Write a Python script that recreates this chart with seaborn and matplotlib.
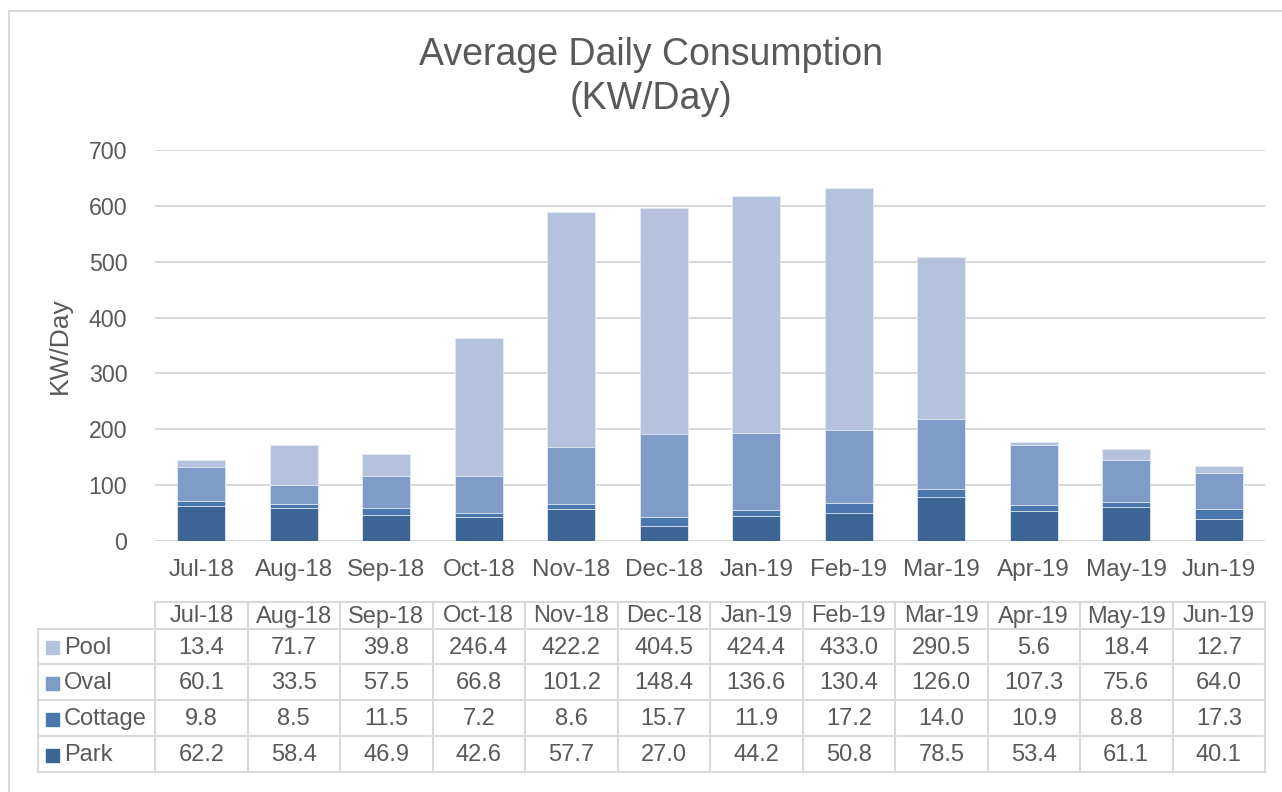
import numpy as np
import pandas as pd
import matplotlib
matplotlib.use("Agg")
import matplotlib.pyplot as plt
import seaborn as sns
from matplotlib.patches import Rectangle

months = ["Jul-18", "Aug-18", "Sep-18", "Oct-18", "Nov-18", "Dec-18",
          "Jan-19", "Feb-19", "Mar-19", "Apr-19", "May-19", "Jun-19"]
park = [62.2, 58.4, 46.9, 42.6, 57.7, 27.0, 44.2, 50.8, 78.5, 53.4, 61.1, 40.1]
cottage = [9.8, 8.5, 11.5, 7.2, 8.6, 15.7, 11.9, 17.2, 14.0, 10.9, 8.8, 17.3]
oval = [60.1, 33.5, 57.5, 66.8, 101.2, 148.4, 136.6, 130.4, 126.0, 107.3, 75.6, 64.0]
pool = [13.4, 71.7, 39.8, 246.4, 422.2, 404.5, 424.4, 433.0, 290.5, 5.6, 18.4, 12.7]

series = ["Park", "Cottage", "Oval", "Pool"]
colors = {"Park": "#3C6494", "Cottage": "#4A77AE", "Oval": "#7F9BC7", "Pool": "#B4C2DE"}

df = pd.DataFrame({"month": months, "Park": park, "Cottage": cottage,
                   "Oval": oval, "Pool": pool})
# cumulative tops for stacking
cum = df[series].cumsum(axis=1)

sns.set_theme(style="white")
plt.rcParams["font.family"] = ["Liberation Sans", "DejaVu Sans"]
txt = "#595959"
grid = "#D9D9D9"

W, H = 1282, 792
fig = plt.figure(figsize=(W / 100, H / 100), dpi=100)


def fx(px):
    return px / W


def fy(py):
    return 1 - py / H


# outer chart border
fig.patches.append(Rectangle((fx(8.5), fy(800)), fx(1300), fy(10.5) - fy(800),
                             transform=fig.transFigure, fill=False,
                             edgecolor=grid, linewidth=1.5))

ax = fig.add_axes([fx(155), fy(541), fx(1265) - fx(155), fy(150) - fy(541)])

# draw from the top of the stack down so each segment overlays the next
for name in reversed(series):
    sns.barplot(x=df["month"], y=cum[name], color=colors[name], width=0.52,
                saturation=1, edgecolor="#E4EAF3", linewidth=0.6, ax=ax,
                order=months)

ax.set_ylim(0, 700)
ax.set_xlim(-0.5, 11.5)
ax.set_yticks(range(0, 701, 100))
ax.yaxis.grid(True, color=grid, linewidth=1.5)
ax.set_axisbelow(True)
for s in ax.spines.values():
    s.set_visible(False)
ax.tick_params(axis="both", length=0, labelcolor=txt)
ax.tick_params(axis="x", pad=13, labelsize=17.5)
ax.tick_params(axis="y", pad=20, labelsize=16.7)
ax.set_xlabel("")
ax.set_ylabel("KW/Day", fontsize=19, color=txt, labelpad=12)

fig.text(fx(651), fy(55), "Average Daily Consumption", ha="center", va="center",
         fontsize=27, color=txt)
fig.text(fx(651), fy(99), "(KW/Day)", ha="center", va="center",
         fontsize=27, color=txt)

# data table with legend keys
tab = fig.add_axes([0, 0, 1, 1], facecolor="none")
tab.set_xlim(0, W)
tab.set_ylim(H, 0)
tab.axis("off")

left, x0, colw = 38, 155, 92.5
right = x0 + colw * 12
rows_y = [602, 629, 664, 700, 736, 772]
lc = dict(color=grid, linewidth=1.5)

# header row
tab.plot([x0, right], [rows_y[0], rows_y[0]], **lc)
for yy in rows_y[1:]:
    tab.plot([left, right], [yy, yy], **lc)
tab.plot([left, left], [rows_y[1], rows_y[-1]], **lc)
for i in range(13):
    xx = x0 + i * colw
    tab.plot([xx, xx], [rows_y[0], rows_y[-1]], **lc)

for i, m in enumerate(months):
    tab.text(x0 + (i + 0.5) * colw, (rows_y[0] + rows_y[1]) / 2 + 1, m,
             ha="center", va="center", fontsize=17, color=txt)

table_rows = ["Pool", "Oval", "Cottage", "Park"]
for r, name in enumerate(table_rows):
    yc = (rows_y[r + 1] + rows_y[r + 2]) / 2 + 1
    tab.add_patch(Rectangle((46, yc - 6.5), 13, 13, color=colors[name]))
    tab.text(64, yc, name, ha="left", va="center", fontsize=17, color=txt)
    vals = df[name].tolist()
    for i, v in enumerate(vals):
        tab.text(x0 + (i + 0.5) * colw, yc, f"{v:.1f}", ha="center",
                 va="center", fontsize=17, color=txt)

fig.savefig("out.png", dpi=100)
